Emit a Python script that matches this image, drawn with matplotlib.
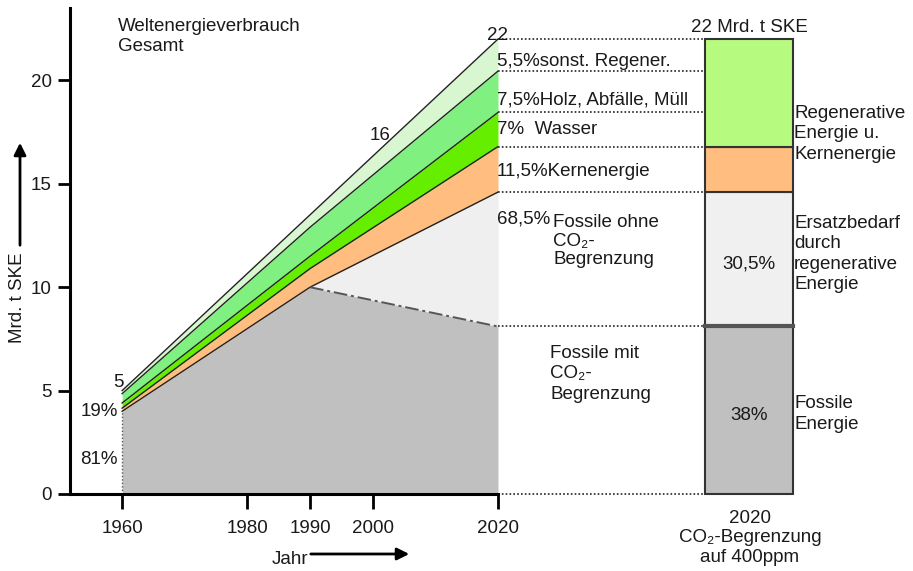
import matplotlib
matplotlib.use('Agg')
import matplotlib.pyplot as plt
import numpy as np

plt.rcParams['font.family'] = ['Liberation Sans', 'DejaVu Sans']
FS = 13.5
TXT = '#1a1a1a'

# ---------------- data ----------------
years = [1960, 1990, 2020]
fossil_ohne = [4.0, 10.0, 14.6]   # fossile Energie ohne CO2-Begrenzung
fossil_mit = [4.0, 10.0, 8.1]     # fossile Energie mit CO2-Begrenzung
kern = [0.15, 0.9, 2.2]           # Kernenergie
wasser = [0.25, 0.6, 1.65]        # Wasser
holz = [0.45, 1.4, 2.0]           # Holz, Abfälle, Müll
sonst = [0.15, 0.6, 1.55]         # sonstige Regenerative

x_ticks = [1960, 1980, 1990, 2000, 2020]
y_ticks = [0, 5, 10, 15, 20]

layer_labels = ['5,5%sonst. Regener.', '7,5%Holz, Abfälle, Müll',
                '7%  Wasser', '11,5%Kernenergie']
share_1960 = ['19%', '81%']
bar_pct = ['38%', '30,5%']
bar_colors = ['#c0c0c0', '#f0f0f0', '#ffbd80', '#b6fb80']

# ---------------- layout ----------------
W, H, DPI = 913, 571, 100
AX_L, AX_R, AX_T, AX_B = 70, 498, 8, 494
BAR_L, BAR_R = 705, 793
PX_Y = 20.68
XPX = 6.265
YMAX = (AX_B - AX_T) / PX_Y
X0 = 2020 - (AX_R - AX_L) / XPX

fig = plt.figure(figsize=(W / DPI, H / DPI), dpi=DPI)
ax = fig.add_axes([AX_L / W, 1 - AX_B / H, (AX_R - AX_L) / W, (AX_B - AX_T) / H])
ax.set_xlim(X0, 2020)
ax.set_ylim(0, YMAX)

c0 = np.array(fossil_ohne)
c1 = c0 + np.array(kern)
c2 = c1 + np.array(wasser)
c3 = c2 + np.array(holz)
c4 = c3 + np.array(sonst)

ax.fill_between(years, fossil_mit, c0, color='#efefef', lw=0)
ax.fill_between(years, 0, fossil_mit, color='#c0c0c0', lw=0)
ax.fill_between(years, c0, c1, color='#ffbd80', lw=0)
ax.fill_between(years, c1, c2, color='#66ee00', lw=0)
ax.fill_between(years, c2, c3, color='#80f080', lw=0)
ax.fill_between(years, c3, c4, color='#d8f7d0', lw=0)
for c in [c0, c1, c2, c3, c4]:
    ax.plot(years, c, color='#222222', lw=1.0)
ax.plot(years[1:], fossil_mit[1:], color='#555555', lw=1.4, dashes=[7, 2, 1.5, 2])
ax.plot([years[0], years[0]], [0, fossil_ohne[0]], color='#555555', lw=1.0, ls=(0, (1, 1.5)))

# dotted guide lines to the bar
xb = 2020 + (BAR_L - AX_R) / XPX
for lv in [c4[-1], c3[-1], c2[-1], c1[-1], c0[-1], fossil_mit[-1], 0]:
    ax.plot([2020, xb], [lv, lv], color='#222222', lw=1.2, ls=(0, (1, 1.3)), clip_on=False)

for s in ['top', 'right']:
    ax.spines[s].set_visible(False)
for s in ['left', 'bottom']:
    ax.spines[s].set_linewidth(2.2)
ax.set_xticks(x_ticks)
ax.set_yticks(y_ticks)
ax.tick_params(axis='y', length=9, width=2, pad=4, labelsize=FS, labelcolor=TXT)
ax.tick_params(axis='x', length=11, width=2, pad=8, labelsize=FS, labelcolor=TXT)

# value annotations
ax.annotate(f'{c4[-1]:.0f}', (2020, c4[-1]), xytext=(0, -1), textcoords='offset pixels',
            ha='center', va='baseline', fontsize=FS, color=TXT)
top2000 = np.interp(2000, years, c4)
ax.annotate('16', (2000, top2000), xytext=(7, 21), textcoords='offset pixels',
            ha='center', va='center', fontsize=FS, color=TXT)
ax.annotate(f'{c4[0]:.0f}', (1960, c4[0]), xytext=(-4, 8), textcoords='offset pixels',
            ha='center', va='center', fontsize=FS, color=TXT)
ax.annotate(share_1960[0], (1960, c0[0]), xytext=(-4, 0), textcoords='offset pixels',
            ha='right', va='center', fontsize=FS, color=TXT)
ax.annotate(share_1960[1], (1960, c0[0]), xytext=(-4, -48), textcoords='offset pixels',
            ha='right', va='center', fontsize=FS, color=TXT)

# ---------------- bar ----------------
bx = fig.add_axes([BAR_L / W, 1 - AX_B / H, (BAR_R - BAR_L) / W, (AX_B - AX_T) / H])
bx.set_xlim(0, 1)
bx.set_ylim(0, YMAX)
bx.axis('off')
bar_vals = [fossil_mit[-1], c0[-1] - fossil_mit[-1], kern[-1], c4[-1] - c1[-1]]
bot = 0
for v, col in zip(bar_vals, bar_colors):
    bx.bar(0.5, v, width=1, bottom=bot, color=col, edgecolor='#333333', lw=1.5, clip_on=False)
    bot += v
bx.plot([0, 1], [fossil_mit[-1], fossil_mit[-1]], color='#555555', lw=3, clip_on=False)
bx.text(0.5, fossil_mit[-1] * 0.47, bar_pct[0], ha='center', va='center', fontsize=FS, color=TXT)
bx.text(0.5, 11.1, bar_pct[1], ha='center', va='center', fontsize=FS, color=TXT)


def ftext(x, y, s, **kw):
    kw.setdefault('fontsize', FS)
    kw.setdefault('color', TXT)
    fig.text(x / W, 1 - y / H, s, **kw)


ftext(118, 18, 'Weltenergieverbrauch\nGesamt', ha='left', va='top', linespacing=1.25)
ys = [62, 100, 130, 172]
for lab, y in zip(layer_labels, ys):
    ftext(497, y, lab, ha='left', va='center')
ftext(497, 219, '68,5%', ha='left', va='center')
ftext(553, 241, 'Fossile ohne\nCO₂-\nBegrenzung', ha='left', va='center', linespacing=1.15)
ftext(550, 374, 'Fossile mit\nCO₂-\nBegrenzung', ha='left', va='center', linespacing=1.25)
ftext(749, 28, '22 Mrd. t SKE', ha='center', va='center')
ftext(794, 134, 'Regenerative\nEnergie u.\nKernenergie', ha='left', va='center', linespacing=1.25)
ftext(794, 254, 'Ersatzbedarf\ndurch\nregenerative\nEnergie', ha='left', va='center', linespacing=1.25)
ftext(794, 414, 'Fossile\nEnergie', ha='left', va='center', linespacing=1.25)
ftext(750, 538, '2020\nCO₂-Begrenzung\nauf 400ppm', ha='center', va='center', linespacing=1.2)

# axis titles with arrows
ftext(18, 298, 'Mrd. t SKE', rotation=90, ha='center', va='center')
fig.add_artist(matplotlib.patches.FancyArrowPatch(
    (20 / W, 1 - 248 / H), (20 / W, 1 - 140 / H), transform=fig.transFigure,
    arrowstyle='-|>', mutation_scale=18, lw=2, color='black'))
ftext(290, 560, 'Jahr', ha='center', va='center')
fig.add_artist(matplotlib.patches.FancyArrowPatch(
    (308 / W, 1 - 554 / H), (412 / W, 1 - 554 / H), transform=fig.transFigure,
    arrowstyle='-|>', mutation_scale=18, lw=2, color='black'))

fig.savefig('out.png', dpi=DPI)
